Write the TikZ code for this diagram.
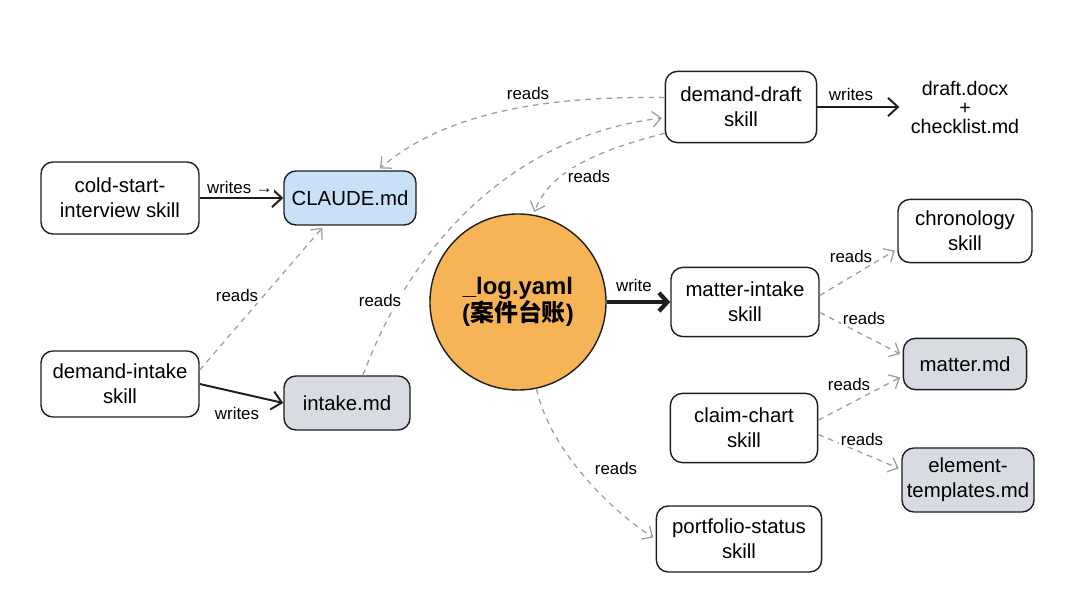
\documentclass[tikz,border=0pt]{standalone}
\usepackage{fontspec}
\setmainfont{Liberation Sans}
\newfontfamily\cjkfont{Noto Sans CJK SC}
\usetikzlibrary{arrows.meta}
\definecolor{fileblue}{RGB}{200,225,247}
\definecolor{filegray}{RGB}{216,219,225}
\definecolor{logorange}{RGB}{246,180,86}
\definecolor{readgray}{RGB}{158,158,158}
\definecolor{inkblack}{RGB}{30,30,30}
\tikzset{
  skillbox/.style={draw=inkblack, line width=1pt, rounded corners=8.5pt, fill=white,
    align=center, font=\fontsize{14.5}{17.5}\selectfont},
  filebox/.style={skillbox, fill=filegray},
  readsline/.style={readgray, line width=0.9pt, dash pattern=on 4pt off 3.5pt,
    -{Straight Barb[length=6pt,width=11pt]}, shorten >=2pt},
  writesline/.style={inkblack, line width=1.4pt, -{Straight Barb[length=7pt,width=13pt]}},
  lbl/.style={font=\fontsize{12}{14}\selectfont, inner sep=1pt, fill=white}
}
\begin{document}
\begin{tikzpicture}[x=0.025cm,y=-0.025cm]
  \fill [white] (0,0) rectangle (1080,602);
  \useasboundingbox (0,0) rectangle (1080,602);
  % left column
  \node [skillbox, minimum width=3.95cm, minimum height=1.8cm] (coldstart) at (120,198) {cold-start-\\interview skill};
  \node [skillbox, fill=fileblue, minimum width=3.3cm, minimum height=1.35cm] (claude) at (350,198) {CLAUDE.md};
  \node [skillbox, minimum width=3.95cm, minimum height=1.65cm] (dintake) at (120,384) {demand-intake\\skill};
  \node [filebox, minimum width=3.15cm, minimum height=1.35cm] (intake) at (347,403) {intake.md};
  % top
  \node [skillbox, minimum width=3.78cm, minimum height=1.78cm] (ddraft) at (741,107) {demand-draft\\skill};
  \node [align=center, inner sep=5pt, font=\fontsize{14}{13.5}\selectfont] (docs) at (965,107) {draft.docx\\+\\checklist.md};
  % the ledger
  \node [circle, draw=inkblack, line width=1pt, fill=logorange, minimum size=4.4cm, align=center,
    font=\fontsize{17}{19.5}\selectfont\bfseries] (log) at (518,302) {\_log.yaml\\({\cjkfont 案件台账})};
  % right side
  \node [skillbox, minimum width=3.7cm, minimum height=1.73cm] (mintake) at (745,302) {matter-intake\\skill};
  \node [skillbox, minimum width=3.35cm, minimum height=1.58cm] (chron) at (965,231) {chronology\\skill};
  \node [filebox, minimum width=3.08cm, minimum height=1.28cm] (matter) at (965,364) {matter.md};
  \node [skillbox, minimum width=3.68cm, minimum height=1.73cm] (claim) at (744,428) {claim-chart\\skill};
  \node [filebox, minimum width=3.3cm, minimum height=1.6cm] (elem) at (968,480) {element-\\templates.md};
  \node [skillbox, minimum width=4.13cm, minimum height=1.65cm] (portf) at (739,539) {portfolio-status\\skill};

  % writes
  \draw [writesline] (coldstart) -- (claude);
  \draw [writesline] (dintake.east) -- (intake.west);
  \draw [writesline, shorten >=3pt] (ddraft) -- (docs);
  \draw [writesline, line width=3pt, -{Straight Barb[length=6pt,width=13pt]}] (log.east) -- (mintake.west);
  % reads
  \draw [readsline] (dintake.10) -- (claude.-133);
  \draw [readsline] (intake.60) .. controls (415,235) and (520,135) .. (ddraft.188);
  \draw [readsline] (ddraft.173) .. controls (560,96) and (450,108) .. (claude.45);
  \draw [readsline] (ddraft.199) .. controls (600,150) and (550,170) .. (log.80);
  \draw [readsline] (log.-78) .. controls (550,450) and (610,510) .. (portf.west);
  \draw [readsline] (mintake.5) -- (chron.195);
  \draw [readsline] (mintake.-8) -- (matter.172);
  \draw [readsline] (claim.6) -- (matter.191);
  \draw [readsline] (claim.-5) -- (elem.171);

  % edge labels
  \node [lbl] (wrcold) at (240,187) {writes →};
  \node [lbl] (wrintake) at (237,413) {writes};
  \node [lbl] (rdclaude) at (237,295) {reads};
  \node [lbl] (rdintake) at (380,300) {reads};
  \node [lbl] (rdtop) at (528,93) {reads};
  \node [lbl] (rdlog) at (589,176) {reads};
  \node [lbl] (wrdraft) at (851,94) {writes};
  \node [lbl] (wrlog) at (634,285) {write};
  \node [lbl] (rdchron) at (851,256) {reads};
  \node [lbl] (rdmatter) at (864,318) {reads};
  \node [lbl] (rdclaim) at (849,384) {reads};
  \node [lbl] (rdelem) at (862,439) {reads};
  \node [lbl] (rdportf) at (616,468) {reads};
\end{tikzpicture}
\end{document}
